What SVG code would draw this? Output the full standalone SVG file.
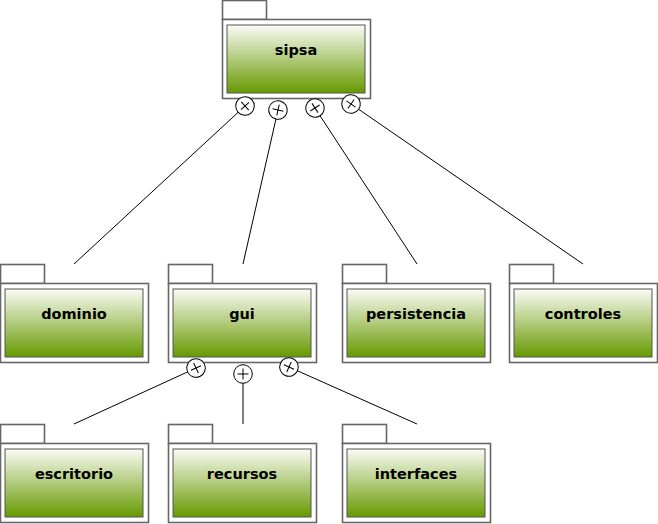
<svg xmlns="http://www.w3.org/2000/svg" width="658" height="524" viewBox="0 0 658 524">
<defs>
<linearGradient id="g" x1="0" y1="0" x2="0" y2="1">
<stop offset="0" stop-color="#fbfcf6"/>
<stop offset="1" stop-color="#669900"/>
</linearGradient>
<g id="pkg">
<rect class="tab" x="0.5" y="0.5" width="44" height="19"/>
<rect class="body" x="0.5" y="19.5" width="148" height="79"/>
<rect class="inner" x="5" y="25" width="138" height="68"/>
</g>
<g id="x">
<circle r="9.3" class="circ"/>
<path d="M-5.5 0H5.5M0 -5.5V5.5" class="cr"/>
</g>
</defs>
<style>
.tab,.body{fill:#ffffff;stroke:#666666;stroke-width:1.6}
.inner{fill:url(#g);stroke:#555555;stroke-width:1}
.lbl{font-family:"DejaVu Sans",sans-serif;font-weight:bold;font-size:14.5px;fill:#000;text-anchor:middle}
.circ{fill:#ffffff;stroke:#000;stroke-width:1}
.cr{stroke:#000;stroke-width:1;fill:none}
.conn{stroke:#000;stroke-width:1;fill:none}
</style>
<g id="connectors">
<line class="conn" x1="238.4" y1="112.1" x2="74" y2="264"/>
<line class="conn" x1="276" y1="118.8" x2="243" y2="264"/>
<line class="conn" x1="319.9" y1="115.5" x2="417" y2="264"/>
<line class="conn" x1="358.4" y1="109.1" x2="583" y2="264"/>
<line class="conn" x1="187.8" y1="371.8" x2="74" y2="424"/>
<line class="conn" x1="243" y1="383" x2="243" y2="424"/>
<line class="conn" x1="297.2" y1="370.7" x2="417" y2="424"/>
</g>
<g id="sipsa" transform="translate(222,0)"><use href="#pkg"/><text class="lbl" x="74" y="55">sipsa</text></g>
<g id="dominio" transform="translate(0,264)"><use href="#pkg"/><text class="lbl" x="74" y="55">dominio</text></g>
<g id="gui" transform="translate(168,264)"><use href="#pkg"/><text class="lbl" x="74" y="55">gui</text></g>
<g id="persistencia" transform="translate(342,264)"><use href="#pkg"/><text class="lbl" x="74" y="55">persistencia</text></g>
<g id="controles" transform="translate(509,264)"><use href="#pkg"/><text class="lbl" x="74" y="55">controles</text></g>
<g id="escritorio" transform="translate(0,424)"><use href="#pkg"/><text class="lbl" x="74" y="55">escritorio</text></g>
<g id="recursos" transform="translate(168,424)"><use href="#pkg"/><text class="lbl" x="74" y="55">recursos</text></g>
<g id="interfaces" transform="translate(342,424)"><use href="#pkg"/><text class="lbl" x="74" y="55">interfaces</text></g>
<g id="containment">
<use href="#x" transform="translate(245,106) rotate(47.3)"/>
<use href="#x" transform="translate(278,110) rotate(12.8)"/>
<use href="#x" transform="translate(315,108) rotate(56.8)"/>
<use href="#x" transform="translate(351,104) rotate(34.6)"/>
<use href="#x" transform="translate(196,368) rotate(65.3)"/>
<use href="#x" transform="translate(243,374)"/>
<use href="#x" transform="translate(289,367) rotate(24)"/>
</g>
</svg>
